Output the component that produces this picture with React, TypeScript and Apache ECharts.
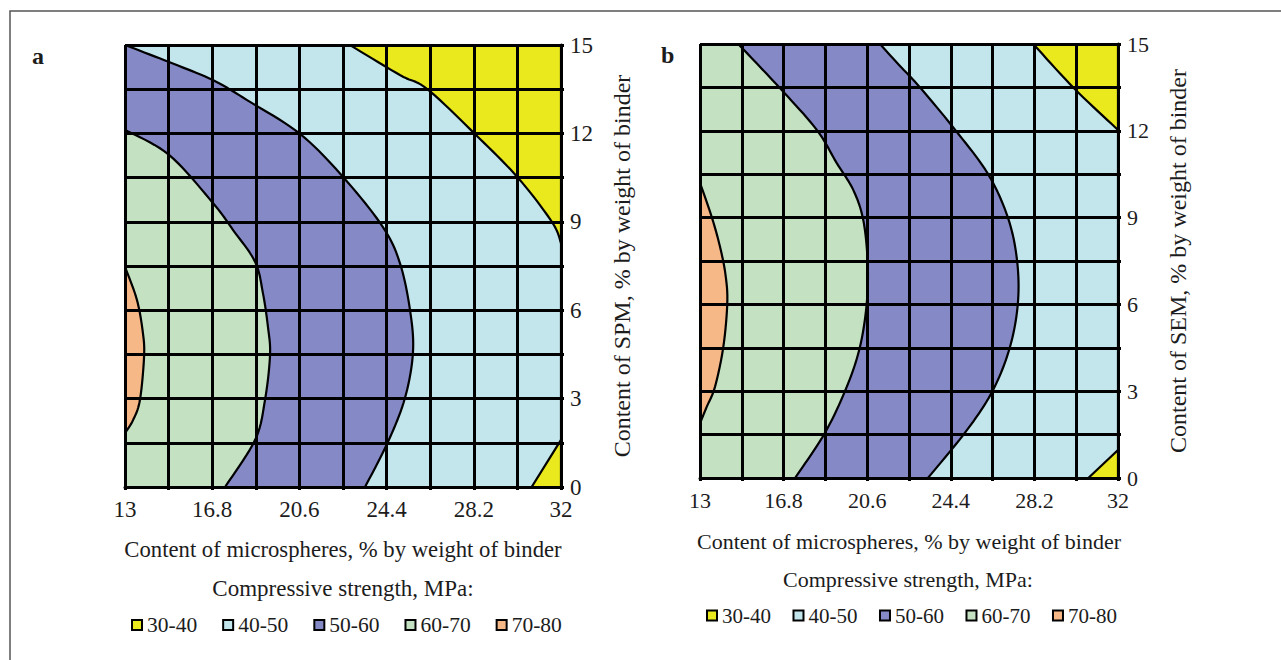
import React, { useEffect, useRef } from "react";
import * as echarts from "echarts";

// ---------- data ----------
const X_MIN = 13;
const X_MAX = 32;
const X_STEP = 3.8; // labelled ticks: 13, 16.8, 20.6, 24.4, 28.2, 32
const Y_MIN = 0;
const Y_MAX = 15;
const Y_STEP = 3; // labelled ticks: 0, 3, 6, 9, 12, 15

const legendNames = ["30-40", "40-50", "50-60", "60-70", "70-80"];
const legendColors = ["#EAE91E", "#C3E6EC", "#8589C6", "#C4E2C2", "#F7B887"];

// Panel a (SPM) – contour boundaries [microspheres, SPM]
const aCurve3040 = [[22.8, 15], [24.98, 13.98], [26.16, 13.51], [28.25, 11.98], [30.13, 10.49], [31.61, 8.99], [32, 8.28]];
const aCurve4050 = [[13, 15], [14.92, 14.42], [16.83, 13.81], [18.32, 13.13], [20.63, 11.98], [22.54, 10.49], [24.24, 8.82], [24.98, 7.6], [25.42, 6.01], [25.55, 4.58], [25.2, 3.02], [24.46, 1.53], [23.46, 0]];
const aCurve5060 = [[13, 12.12], [14.92, 11.27], [16.83, 9.64], [17.71, 8.72], [18.67, 7.64], [19.01, 6.58], [19.23, 5.43], [19.32, 4.48], [19.1, 2.95], [18.67, 1.6], [17.36, 0]];
const aCurve6070 = [[13, 7.47], [13.52, 6.35], [13.78, 5.23], [13.83, 4.41], [13.65, 2.95], [13.35, 2.27], [13, 1.83]];
const aCurveLow = [[30.72, 0], [32, 1.6]];

// Panel b (SEM) – contour boundaries [microspheres, SEM]
const bCurve3040 = [[28.15, 15], [30, 13.47], [32, 12.03]];
const bCurve4050 = [[21.18, 15], [22.09, 14.24], [23.0, 13.5], [24.59, 12.04], [26.09, 10.51], [27.0, 8.99], [27.41, 7.53], [27.45, 6.05], [27.09, 4.53], [26.32, 3.04], [25.14, 1.66], [23.36, 0]];
const bCurve5060 = [[14.74, 15], [16.64, 13.47], [18.3, 12.04], [19.21, 10.89], [19.97, 9.95], [20.42, 8.92], [20.62, 7.47], [20.58, 6.05], [20.27, 4.53], [19.67, 3.15], [18.68, 1.56], [17.32, 0]];
const bCurve6070 = [[13, 10.2], [13.53, 9.03], [13.91, 7.99], [14.16, 7.02], [14.24, 6.05], [14.06, 4.53], [13.68, 3.15], [13.3, 2.45], [13, 1.89]];
const bCurveLow = [[30.65, 0], [32, 0.97]];

const xTitle = "Content of microspheres, % by weight of binder";
const yTitleA = "Content of SPM, % by weight of binder";
const yTitleB = "Content of SEM, % by weight of binder";
const legendTitle = "Compressive strength, MPa:";

// ---------- helpers ----------
const FONT = '"Liberation Serif", "Times New Roman", serif';
const TEXT = "#1c1c1c";
const GRID_W = 3;
const CONTOUR_W = 2.2;
const colorOf = (name: string) => legendColors[legendNames.indexOf(name)];

// Catmull-Rom smoothing of a pixel-space polyline (drawing only)
function smoothPixels(c: number[][]): number[][] {
  if (c.length < 3) return c;
  const out: number[][] = [];
  const STEPS = 10;
  for (let i = 0; i < c.length - 1; i++) {
    const p0 = c[Math.max(0, i - 1)];
    const p1 = c[i];
    const p2 = c[i + 1];
    const p3 = c[Math.min(c.length - 1, i + 2)];
    for (let s = 0; s < STEPS; s++) {
      const t = s / STEPS;
      const t2 = t * t;
      const t3 = t2 * t;
      const f = (k: number) =>
        0.5 *
        (2 * p1[k] +
          (-p0[k] + p2[k]) * t +
          (2 * p0[k] - 5 * p1[k] + 4 * p2[k] - p3[k]) * t2 +
          (-p0[k] + 3 * p1[k] - 3 * p2[k] + p3[k]) * t3);
      out.push([f(0), f(1)]);
    }
  }
  out.push(c[c.length - 1]);
  return out;
}

// a region is a list of pieces (curves, or single corner points)
function regionSeries(name: string, pieces: number[][][], idx: number) {
  const fill = colorOf(name);
  const flat = pieces.reduce((acc: number[][], p) => acc.concat(p), []);
  return {
    type: "custom",
    name,
    xAxisIndex: idx,
    yAxisIndex: idx,
    z: 1,
    silent: true,
    clip: true,
    itemStyle: { color: fill, borderColor: "#000", borderWidth: 2 },
    data: flat,
    renderItem: (params: any, api: any) => {
      if (params.dataIndex !== 0) return null;
      let pts: number[][] = [];
      pieces.forEach((piece) => {
        pts = pts.concat(smoothPixels(piece.map((p) => api.coord(p))));
      });
      return {
        type: "polygon",
        shape: { points: pts },
        style: { fill, stroke: "#000", lineWidth: CONTOUR_W, lineJoin: "round" },
      };
    },
  };
}

function xAxisFor(idx: number, fs: number, nameFs: number, nameGap: number) {
  return {
    type: "value",
    gridIndex: idx,
    min: X_MIN,
    max: X_MAX,
    interval: X_STEP,
    position: "bottom",
    z: 3,
    axisLine: { show: true, onZero: false, lineStyle: { color: "#000", width: GRID_W } },
    axisTick: { show: true, length: 3, lineStyle: { color: "#000", width: 3 } },
    minorTick: { show: true, splitNumber: 2, length: 3, lineStyle: { color: "#000", width: 3 } },
    splitLine: { show: true, lineStyle: { color: "#000", width: GRID_W } },
    minorSplitLine: { show: true, lineStyle: { color: "#000", width: GRID_W } },
    axisLabel: {
      color: TEXT,
      fontSize: fs,
      fontFamily: FONT,
      margin: 11,
      formatter: (v: number) => String(Math.round(v * 10) / 10),
    },
    name: xTitle,
    nameLocation: "middle",
    nameGap,
    nameTextStyle: { color: TEXT, fontSize: nameFs, fontFamily: FONT },
  };
}

function yAxisFor(idx: number, fs: number, nameFs: number, name: string, nameGap: number) {
  return {
    type: "value",
    gridIndex: idx,
    min: Y_MIN,
    max: Y_MAX,
    interval: Y_STEP,
    position: "right",
    z: 3,
    axisLine: { show: true, onZero: false, lineStyle: { color: "#000", width: GRID_W } },
    axisTick: { show: true, length: 3, lineStyle: { color: "#000", width: 3 } },
    minorTick: { show: true, splitNumber: 2, length: 3, lineStyle: { color: "#000", width: 3 } },
    splitLine: { show: true, lineStyle: { color: "#000", width: GRID_W } },
    minorSplitLine: { show: true, lineStyle: { color: "#000", width: GRID_W } },
    axisLabel: { color: TEXT, fontSize: fs, fontFamily: FONT, margin: 9 },
    name,
    nameLocation: "middle",
    nameRotate: 90,
    nameGap,
    nameTextStyle: { color: TEXT, fontSize: nameFs, fontFamily: FONT },
  };
}

function legendFor(left: number, top: number, fs: number, gap: number) {
  return {
    data: legendNames,
    left,
    top,
    padding: 0,
    orient: "horizontal",
    itemGap: gap,
    itemWidth: 10,
    itemHeight: 10,
    icon: "rect",
    selectedMode: false,
    itemStyle: { borderColor: "#000", borderWidth: 2 },
    textStyle: { color: TEXT, fontSize: fs, fontFamily: FONT },
  };
}

function buildOption() {
  const c = (x: number, y: number) => [[x, y]];
  const series: any[] = [
    // panel a
    regionSeries("40-50", [c(X_MIN, Y_MIN), c(X_MAX, Y_MIN), c(X_MAX, Y_MAX), c(X_MIN, Y_MAX)], 0),
    regionSeries("50-60", [aCurve4050, c(X_MIN, Y_MIN)], 0),
    regionSeries("60-70", [aCurve5060, c(X_MIN, Y_MIN)], 0),
    regionSeries("70-80", [aCurve6070], 0),
    regionSeries("30-40", [aCurve3040, c(X_MAX, Y_MAX)], 0),
    regionSeries("30-40", [aCurveLow, c(X_MAX, Y_MIN)], 0),
    // panel b
    regionSeries("40-50", [c(X_MIN, Y_MIN), c(X_MAX, Y_MIN), c(X_MAX, Y_MAX), c(X_MIN, Y_MAX)], 1),
    regionSeries("50-60", [bCurve4050, c(X_MIN, Y_MIN), c(X_MIN, Y_MAX)], 1),
    regionSeries("60-70", [bCurve5060, c(X_MIN, Y_MIN), c(X_MIN, Y_MAX)], 1),
    regionSeries("70-80", [bCurve6070], 1),
    regionSeries("30-40", [bCurve3040, c(X_MAX, Y_MAX)], 1),
    regionSeries("30-40", [bCurveLow, c(X_MAX, Y_MIN)], 1),
  ];

  return {
    animation: false,
    backgroundColor: "#ffffff",
    grid: [
      { left: 125, top: 45, width: 436, height: 442, containLabel: false },
      { left: 700, top: 44, width: 418, height: 434, containLabel: false },
    ],
    xAxis: [xAxisFor(0, 23, 22.7, 51), xAxisFor(1, 22, 22, 52)],
    yAxis: [yAxisFor(0, 23, 24, yTitleA, 49), yAxisFor(1, 22, 24, yTitleB, 48)],
    legend: [legendFor(131, 614, 21.5, 25), legendFor(706, 605, 21, 21.5)],
    graphic: [
      {
        type: "rect",
        silent: true,
        z: -1,
        shape: { x: 10, y: 11, width: 1300, height: 700 },
        style: { fill: "none", stroke: "#555", lineWidth: 1.5 },
      },
      {
        type: "text",
        x: 32,
        y: 56,
        style: { text: "a", fontSize: 24, fontWeight: "bold", fontFamily: FONT, fill: TEXT, verticalAlign: "middle" },
      },
      {
        type: "text",
        x: 661,
        y: 55,
        style: { text: "b", fontSize: 24, fontWeight: "bold", fontFamily: FONT, fill: TEXT, verticalAlign: "middle" },
      },
      {
        type: "text",
        x: 343,
        y: 588,
        style: { text: legendTitle, fontSize: 23, fontFamily: FONT, fill: TEXT, align: "center", verticalAlign: "middle" },
      },
      {
        type: "text",
        x: 908,
        y: 579,
        style: { text: legendTitle, fontSize: 22, fontFamily: FONT, fill: TEXT, align: "center", verticalAlign: "middle" },
      },
    ],
    series,
  };
}

export default function App() {
  const ref = useRef<HTMLDivElement>(null);
  useEffect(() => {
    document.body.style.margin = "0";
    const chart = echarts.init(ref.current as HTMLDivElement, null, { renderer: "svg" });
    chart.setOption(buildOption() as any);
    return () => chart.dispose();
  }, []);
  return <div ref={ref} style={{ width: 1281, height: 660, background: "#fff" }} />;
}
